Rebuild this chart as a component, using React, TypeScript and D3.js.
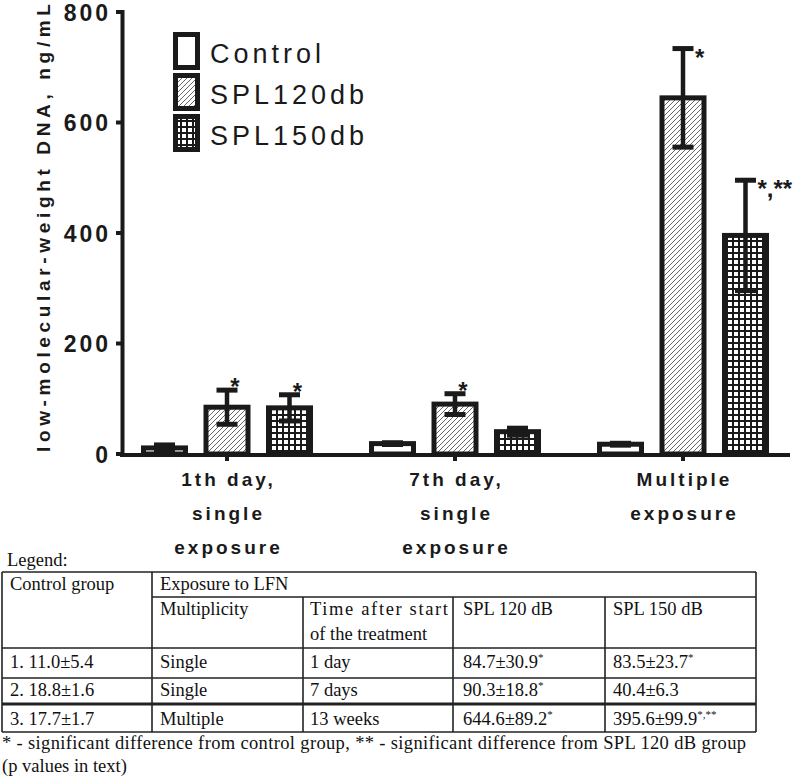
import React, { useRef, useEffect } from 'react';
import * as d3 from 'd3';

// chart data
const groupLabels = [["1th day,", "single", "exposure"], ["7th day,", "single", "exposure"], ["Multiple", "exposure"]];
const seriesNames = ["Control", "SPL120db", "SPL150db"];
const controlMean = [11.0, 18.8, 17.7];
const controlSd = [5.4, 1.6, 1.7];
const spl120Mean = [84.7, 90.3, 644.6];
const spl120Sd = [30.9, 18.8, 89.2];
const spl150Mean = [83.5, 40.4, 395.6];
const spl150Sd = [23.7, 6.3, 99.9];
const controlMarks = ["", "", ""];
const spl120Marks = ["*", "*", "*"];
const spl150Marks = ["*", "", "*,**"];
const yTicks = [0, 200, 400, 600, 800];

// legend table data
const controlCol = ["1. 11.0±5.4", "2. 18.8±1.6", "3. 17.7±1.7"];
const multiplicityCol = ["Single", "Single", "Multiple"];
const timeCol = ["1 day", "7 days", "13 weeks"];
const spl120Col = ["84.7±30.9", "90.3±18.8", "644.6±89.2"];
const spl150Col = ["83.5±23.7", "40.4±6.3", "395.6±99.9"];

const SANS = "'Liberation Sans', Arial, sans-serif";
const SERIF = "'Liberation Serif', 'Times New Roman', serif";

const App = () => {
  const svgRef = useRef<SVGSVGElement>(null);

  useEffect(() => {
    const svg = d3.select(svgRef.current);
    svg.selectAll("*").remove();

    const defs = svg.append("defs");
    const hatch = defs.append("pattern").attr("id", "hatch")
      .attr("width", 5).attr("height", 5).attr("patternUnits", "userSpaceOnUse");
    hatch.append("rect").attr("width", 5).attr("height", 5).attr("fill", "#fff");
    hatch.append("path").attr("d", "M-1,1 l2,-2 M0,5 l5,-5 M4,6 l2,-2")
      .attr("stroke", "#555").attr("stroke-width", 0.9);
    const grid = defs.append("pattern").attr("id", "grid")
      .attr("width", 6).attr("height", 6).attr("patternUnits", "userSpaceOnUse");
    grid.append("rect").attr("width", 6).attr("height", 6).attr("fill", "#1a1a1a");
    grid.append("rect").attr("x", 2).attr("y", 2).attr("width", 4).attr("height", 4).attr("fill", "#fff");

    const fills = ["#fff", "url(#hatch)", "url(#grid)"];
    const means = [controlMean, spl120Mean, spl150Mean];
    const sds = [controlSd, spl120Sd, spl150Sd];
    const marks = [controlMarks, spl120Marks, spl150Marks];

    const x0 = d3.scaleBand().domain(groupLabels.map(d => d.join(" "))).range([113, 797]);
    const x1 = d3.scalePoint().domain(seriesNames).range([-62.5, 62.5]);
    const y = d3.scaleLinear().domain([0, 800]).range([454, 12]);
    const barW = 42;
    const ink = "#1a1a1a";

    // bars + error bars
    groupLabels.forEach((g, gi) => {
      const cx = x0(g.join(" "))! + x0.bandwidth() / 2;
      seriesNames.forEach((s, si) => {
        const bx = cx + x1(s)!;
        const m = means[si][gi];
        const sd = sds[si][gi];
        svg.append("rect")
          .attr("x", bx - barW / 2).attr("width", barW)
          .attr("y", y(m)).attr("height", y(0) - y(m))
          .attr("fill", fills[si]).attr("stroke", ink).attr("stroke-width", 5);
        const top = y(m + sd), bot = y(m - sd);
        svg.append("line").attr("x1", bx).attr("x2", bx).attr("y1", top).attr("y2", bot)
          .attr("stroke", ink).attr("stroke-width", 4.5);
        [top, bot].forEach(yy => {
          svg.append("line").attr("x1", bx - 10.5).attr("x2", bx + 10.5).attr("y1", yy).attr("y2", yy)
            .attr("stroke", ink).attr("stroke-width", 5);
        });
        const mk = marks[si][gi];
        if (mk) {
          const right = gi === 2;
          svg.append("text")
            .attr("x", right ? bx + 12 : bx + 8)
            .attr("y", right ? top + 17 : top + 5)
            .attr("text-anchor", right ? "start" : "middle")
            .style("font-family", SANS).style("font-size", "24px").style("font-weight", "bold")
            .attr("fill", ink)
            .text(mk);
        }
      });
      // x tick + labels
      svg.append("line").attr("x1", cx).attr("x2", cx).attr("y1", 454).attr("y2", 461)
        .attr("stroke", ink).attr("stroke-width", 4);
      g.forEach((line, li) => {
        svg.append("text")
          .attr("x", cx + 1.5).attr("y", 486 + li * 34)
          .attr("text-anchor", "middle")
          .style("font-family", SANS).style("font-size", "19px").style("font-weight", "bold")
          .style("letter-spacing", "3px")
          .attr("fill", ink)
          .text(line);
      });
    });

    // axes
    svg.append("line").attr("x1", 120).attr("x2", 790).attr("y1", 455).attr("y2", 455)
      .attr("stroke", ink).attr("stroke-width", 4);
    svg.append("line").attr("x1", 122.5).attr("x2", 122.5).attr("y1", 10).attr("y2", 457)
      .attr("stroke", ink).attr("stroke-width", 4);
    yTicks.forEach(t => {
      svg.append("line").attr("x1", 116).attr("x2", 122).attr("y1", y(t)).attr("y2", y(t))
        .attr("stroke", ink).attr("stroke-width", 4);
      svg.append("text")
        .attr("x", 111).attr("y", y(t) + 8.5)
        .attr("text-anchor", "end")
        .style("font-family", SANS).style("font-size", "23px").style("font-weight", "bold")
        .style("letter-spacing", "3px")
        .attr("fill", ink)
        .text(t);
    });

    // y axis title (kept just inside the top edge)
    svg.append("text")
      .attr("transform", "translate(50,452) rotate(-90)")
      .attr("textLength", 448).attr("lengthAdjust", "spacing")
      .style("font-family", SANS).style("font-size", "19px").style("font-weight", "bold")
      .attr("fill", ink)
      .text("low-molecular-weight DNA, ng/mL");

    // legend
    seriesNames.forEach((s, i) => {
      const ly = 32 + i * 41;
      svg.append("rect").attr("x", 175.5).attr("y", ly + 2.5).attr("width", 22).attr("height", 33)
        .attr("fill", fills[i]).attr("stroke", ink).attr("stroke-width", 5);
      svg.append("text")
        .attr("x", 210).attr("y", ly + 31)
        .style("font-family", SANS).style("font-size", "27px")
        .style("letter-spacing", "4px")
        .attr("fill", ink)
        .text(s);
    });

    // legend table
    const tc = "#222";
    const colX = [2, 152, 303, 453, 605, 756];
    const rowY = [572, 597, 648, 678, 704, 732];
    const txt = (x: number, yy: number, s: string, sup?: string) => {
      const t = svg.append("text").attr("x", x).attr("y", yy)
        .style("font-family", SERIF).style("font-size", "18.5px").attr("fill", "#111");
      t.append("tspan").text(s);
      if (sup) t.append("tspan").attr("dy", -7).style("font-size", "11px").text(sup);
      return t;
    };
    const hline = (x1: number, x2: number, yy: number, w = 1.6) =>
      svg.append("line").attr("x1", x1).attr("x2", x2).attr("y1", yy).attr("y2", yy).attr("stroke", tc).attr("stroke-width", w);
    const vline = (x: number, y1: number, y2: number) =>
      svg.append("line").attr("x1", x).attr("x2", x).attr("y1", y1).attr("y2", y2).attr("stroke", tc).attr("stroke-width", 1.6);

    hline(colX[0], colX[5], rowY[0]);
    hline(colX[1], colX[5], rowY[1]);
    hline(colX[0], colX[5], rowY[2]);
    hline(colX[0], colX[5], rowY[3]);
    hline(colX[0], colX[5], rowY[4], 3.2);
    hline(colX[0], colX[5], rowY[5]);
    vline(colX[0], rowY[0], rowY[5]);
    vline(colX[1], rowY[0], rowY[5]);
    vline(colX[2], rowY[1], rowY[5]);
    vline(colX[3], rowY[1], rowY[5]);
    vline(colX[4], rowY[1], rowY[5]);
    vline(colX[5], rowY[0], rowY[5]);

    txt(7, 566, "Legend:");
    txt(colX[0] + 8, 590, "Control group");
    txt(colX[1] + 8, 590, "Exposure to LFN");
    txt(colX[1] + 8, 615, "Multiplicity");
    txt(colX[2] + 7, 615, "Time after start").attr("textLength", 138).attr("lengthAdjust", "spacing");
    txt(colX[2] + 7, 640, "of the treatment");
    txt(colX[3] + 10, 615, "SPL 120 dB");
    txt(colX[4] + 8, 615, "SPL 150 dB");
    const rowBase = [668, 696, 725];
    controlCol.forEach((_, r) => {
      txt(colX[0] + 8, rowBase[r], controlCol[r]);
      txt(colX[1] + 8, rowBase[r], multiplicityCol[r]);
      txt(colX[2] + 7, rowBase[r], timeCol[r]);
      txt(colX[3] + 10, rowBase[r], spl120Col[r], spl120Marks[r]);
      txt(colX[4] + 8, rowBase[r], spl150Col[r], spl150Marks[r]);
    });
    txt(2, 749, "* - significant difference from control group, ** - significant difference from SPL 120 dB group")
      .attr("textLength", 744).attr("lengthAdjust", "spacing");
    txt(2, 772, "(p values in text)");
  }, []);

  return (
    <svg ref={svgRef} width={800} height={776}
      style={{ position: 'absolute', left: 0, top: 0, background: '#fff' }} />
  );
};

export default App;
